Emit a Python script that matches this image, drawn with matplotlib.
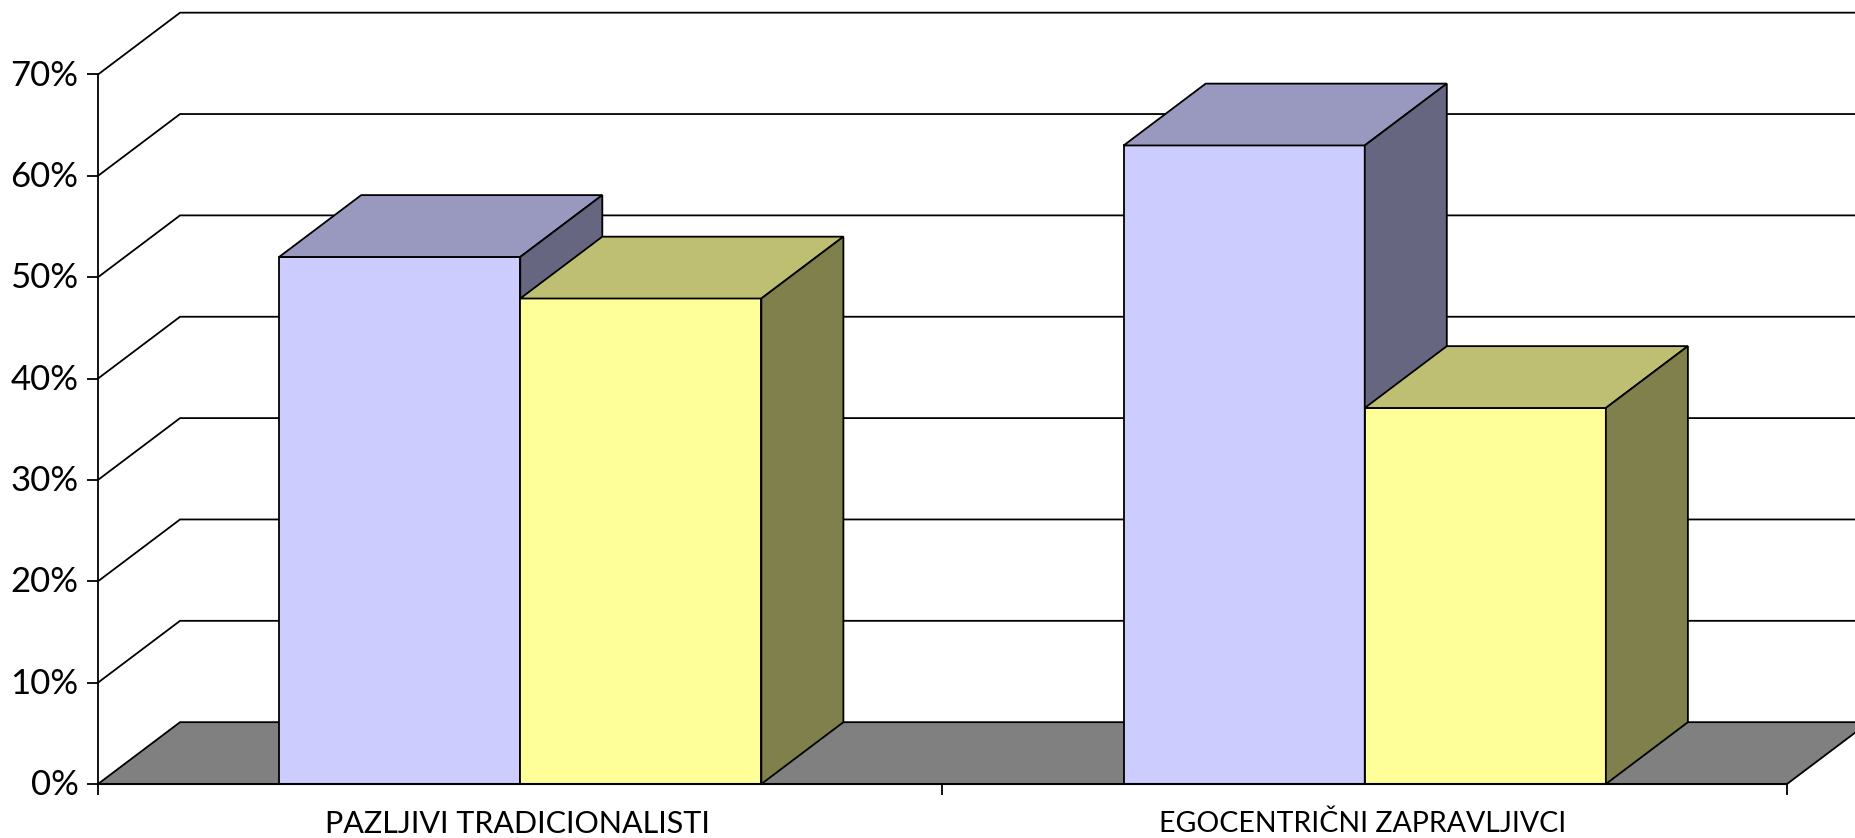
import matplotlib
matplotlib.use("Agg")
import matplotlib.pyplot as plt
from matplotlib.transforms import ScaledTranslation

# Survey shares per segment, in percent
categories = ["PAZLJIVI TRADICIONALISTI", "EGOCENTRIČNI ZAPRAVLJIVCI"]
series_blue = [52.0, 63.0]
series_yellow = [47.9, 37.1]
y_ticks = [0, 10, 20, 30, 40, 50, 60, 70]
y_labels = ["0%", "10%", "20%", "30%", "40%", "50%", "60%", "70%"]

W, H = 1856, 838
LW = 1.3
BAR_W = 0.2855
DX = 82 / 844        # depth offset along the category axis
DY = 6.1             # depth offset along the value axis

fig = plt.figure(figsize=(W / 100, H / 100), dpi=100, facecolor="white")
ax = fig.add_axes([98 / W, (H - 784) / H, 1689 / W, (784 - 74.5) / H])
ax.set_xlim(0, 2)
ax.set_ylim(0, 70)
ax.patch.set_visible(False)


def face(xs, ys, color, z):
    ax.fill(xs, ys, facecolor=color, edgecolor="black", lw=LW, zorder=z,
            clip_on=False, joinstyle="miter")


def box(x0, value, front, top, side, z):
    x1 = x0 + BAR_W
    ax.bar(x0, value, BAR_W, align="edge", color=front, edgecolor="black",
           lw=LW, zorder=z, clip_on=False)
    face([x0, x1, x1 + DX, x0 + DX], [value, value, value + DY, value + DY], top, z)
    face([x1, x1 + DX, x1 + DX, x1], [0, DY, value + DY, value], side, z)


# Floor and the wall gridlines behind the bars
face([0, 2, 2 + DX, DX], [0, 0, DY, DY], "#808080", 1)
for v in y_ticks[1:]:
    ax.plot([0, DX, 2 + DX], [v, v + DY, v + DY], color="black", lw=LW,
            zorder=1, clip_on=False, solid_joinstyle="miter")

# One blue and one yellow box per category, the yellow one in front
for i, name in enumerate(categories):
    left = i + 0.5 - BAR_W
    box(left, series_blue[i], "#CCCCFF", "#9999BF", "#666680", 3 + i * 2)
    box(left + BAR_W, series_yellow[i], "#FFFF99", "#BFBF73", "#80804D", 4 + i * 2)

for s in ("top", "right"):
    ax.spines[s].set_visible(False)
ax.spines["left"].set_linewidth(LW)
ax.spines["bottom"].set_linewidth(1.5)
for s in ("left", "bottom"):
    ax.spines[s].set_zorder(10)

ax.set_yticks(y_ticks, y_labels)
ax.tick_params(axis="y", length=8, width=LW, pad=6, labelsize=25)
ax.set_xticks([0, 1, 2], ["", "", ""])
ax.tick_params(axis="x", which="major", length=8, width=LW)
ax.set_xticks([0.497, 1.498], categories, minor=True)
ax.tick_params(axis="x", which="minor", length=0, pad=19, labelsize=22)

# Nudge the percentage labels up so they sit centred on the ticks
lift = ScaledTranslation(0, 2 / 100, fig.dpi_scale_trans)
for t in ax.get_yticklabels():
    t.set_fontfamily("Lato")
    t.set_transform(t.get_transform() + lift)
minor_labels = ax.get_xticklabels(minor=True)
for t in minor_labels:
    t.set_fontfamily("Lato")
minor_labels[1].set_fontsize(20.5)

fig.savefig("out.png", dpi=100)
